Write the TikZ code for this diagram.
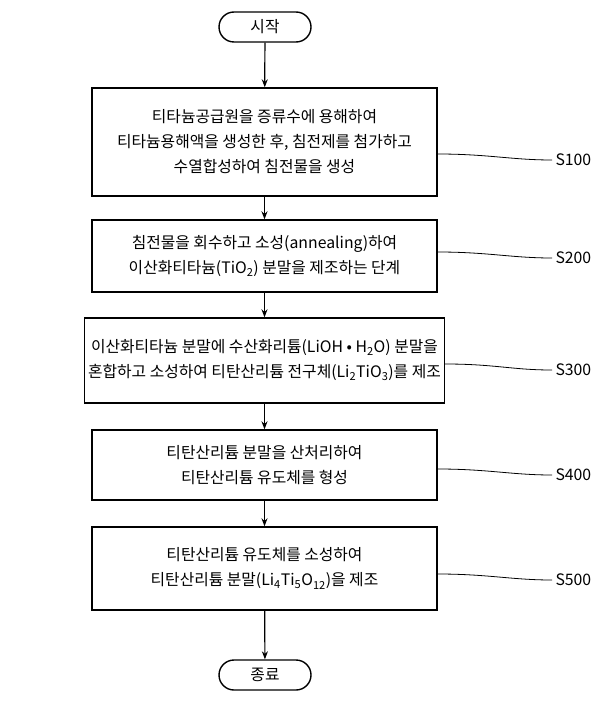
\documentclass[tikz,border=0pt]{standalone}
\usepackage{fontspec}
\setmainfont{Noto Sans CJK KR}
\usetikzlibrary{positioning,arrows.meta}
\tikzset{
    stepbox/.style={draw, line width=1.4pt, minimum width=345pt, align=center, font=\fontsize{15.8}{25}\selectfont},
    termbox/.style={draw, line width=1.4pt, rounded corners=15pt, minimum width=92pt, minimum height=30pt, font=\fontsize{15.8}{18}\selectfont},
    flow/.style={-{Stealth[length=8pt]}, line width=1.2pt},
    steplabel/.style={font=\fontsize{15.8}{18}\selectfont, anchor=west}
}
\begin{document}
\begin{tikzpicture}[x=1pt, y=-1pt]
    \useasboundingbox (0, 0) rectangle (600, 714);
    \node[termbox] (start) at (265, 27) {시작};
    \node[stepbox, minimum height=108pt] (s100) at (264.5, 142) {티타늄공급원을 증류수에 용해하여\\티타늄용해액을 생성한 후, 침전제를 첨가하고\\수열합성하여 침전물을 생성};
    \node[stepbox, minimum height=72pt] (s200) at (264.5, 256) {침전물을 회수하고 소성(annealing)하여\\이산화티타늄(TiO\textsubscript{2}) 분말을 제조하는 단계};
    \node[stepbox, minimum height=85pt] (s300) at (264.5, 360.5) {이산화티타늄 분말에 수산화리튬(LiOH • H\textsubscript{2}O) 분말을\\혼합하고 소성하여 티탄산리튬 전구체(Li\textsubscript{2}TiO\textsubscript{3})를 제조};
    \node[stepbox, minimum height=70pt] (s400) at (264.5, 465) {티탄산리튬 분말을 산처리하여\\티탄산리튬 유도체를 형성};
    \node[stepbox, minimum height=83pt] (s500) at (264.5, 568.5) {티탄산리튬 유도체를 소성하여\\티탄산리튬 분말(Li\textsubscript{4}Ti\textsubscript{5}O\textsubscript{12})을 제조};
    \node[termbox] (stop) at (265, 675) {종료};
    \draw[flow] (start) -- (s100);
    \draw[flow] (s100) -- (s200);
    \draw[flow] (s200) -- (s300);
    \draw[flow] (s300) -- (s400);
    \draw[flow] (s400) -- (s500);
    \draw[flow] (s500) -- (stop);
    % step labels
    \node[steplabel] (l100) at (552, 160) {S100};
    \node[steplabel] (l200) at (552, 258) {S200};
    \node[steplabel] (l300) at (552, 370) {S300};
    \node[steplabel] (l400) at (552, 475) {S400};
    \node[steplabel] (l500) at (552, 580) {S500};
    \foreach \s in {100,200,300,400,500}
        \draw[line width=0.8pt] (s\s.east |- l\s.west) ++(0, -6) .. controls +(50, 0) and +(-40, 0) .. (l\s.west);
\end{tikzpicture}
\end{document}
